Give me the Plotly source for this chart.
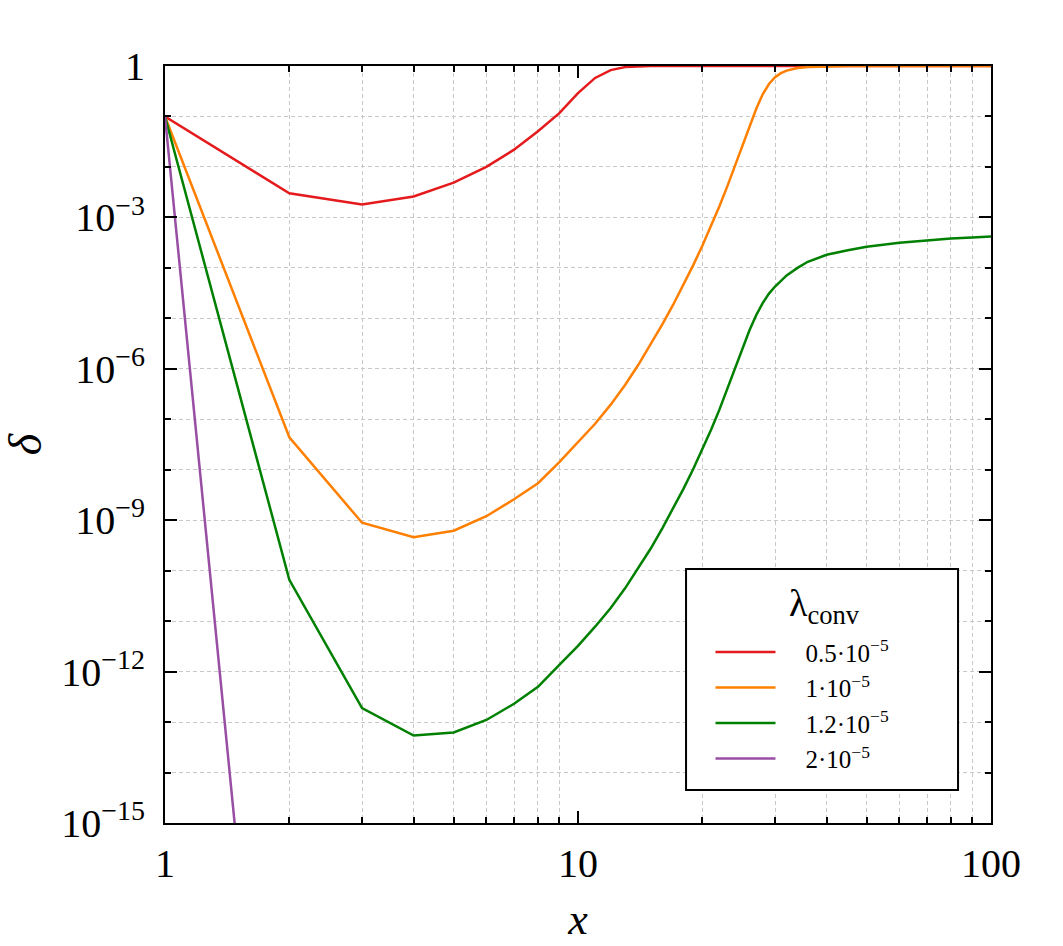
import plotly.graph_objects as go

# ---------------- data ----------------
x_red = [1, 2, 3, 4, 5, 6, 7, 8, 9, 10, 11, 12, 13, 14, 15, 20, 50, 100]
delta_red = [1.0e-1, 3.0e-3, 1.8e-3, 2.6e-3, 4.9e-3, 1.0e-2, 2.2e-2, 5.1e-2,
             1.15e-1, 2.9e-1, 5.8e-1, 8.3e-1, 9.5e-1, 0.99, 1.0, 1.0, 1.0, 1.0]

x_orange = [1, 2, 3, 4, 5, 6, 7, 8, 9, 10, 11, 12, 13, 14, 15, 16, 17, 18, 19,
            20, 21, 22, 23, 24, 25, 26, 27, 28, 29, 30, 31, 32, 33, 34, 36, 40,
            45, 50, 100]
delta_orange = [1.0e-1, 4.4e-8, 8.9e-10, 4.6e-10, 6.2e-10, 1.2e-9, 2.6e-9, 5.4e-9,
                1.4e-8, 3.55e-8, 8.13e-8, 1.95e-7, 4.79e-7, 1.20e-6, 3.02e-6,
                7.59e-6, 1.86e-5, 4.57e-5, 1.12e-4, 2.75e-4, 6.76e-4, 1.66e-3,
                4.17e-3, 1.05e-2, 2.63e-2, 6.31e-2, 1.41e-1, 2.75e-1, 4.4e-1,
                6.0e-1, 7.2e-1, 8.1e-1, 8.7e-1, 9.1e-1, 9.5e-1, 0.984, 0.995,
                1.0, 1.0]

x_green = [1, 2, 3, 4, 5, 6, 7, 8, 9, 10, 11, 12, 13, 14, 15, 16, 17, 18, 19,
           20, 21, 22, 23, 24, 25, 26, 27, 28, 29, 30, 32, 34, 36, 38, 40, 45,
           50, 60, 70, 80, 90, 100]
delta_green = [1.0e-1, 6.6e-11, 1.9e-13, 5.4e-14, 6.2e-14, 1.1e-13, 2.3e-13,
               5.0e-13, 1.35e-12, 3.24e-12, 7.76e-12, 1.82e-11, 4.47e-11,
               1.12e-10, 2.75e-10, 6.92e-10, 1.70e-9, 4.17e-9, 1.02e-8, 2.51e-8,
               6.17e-8, 1.55e-7, 3.98e-7, 1.02e-6, 2.51e-6, 5.75e-6, 1.15e-5,
               2.0e-5, 3.09e-5, 4.27e-5, 7.08e-5, 1.0e-4, 1.32e-4, 1.58e-4,
               1.82e-4, 2.24e-4, 2.63e-4, 3.16e-4, 3.55e-4, 3.80e-4, 3.98e-4,
               4.17e-4]

x_purple = [1, 2]
delta_purple = [1.0e-1, 1.0e-26]

series_names = ["0.5·10<sup>−5</sup>", "1·10<sup>−5</sup>",
                "1.2·10<sup>−5</sup>", "2·10<sup>−5</sup>"]
series_colors = ["#e41a1c", "#ff7f00", "#008000", "#984ea3"]
legend_title = "λ<sub>conv</sub>"

x_major = [1, 10, 100]
x_major_labels = ["1", "10", "100"]
x_minor = [2, 3, 4, 5, 6, 7, 8, 9, 20, 30, 40, 50, 60, 70, 80, 90]

y_major = [1, 1e-3, 1e-6, 1e-9, 1e-12, 1e-15]
y_major_labels = ["1", "10<sup>−3</sup>", "10<sup>−6</sup>", "10<sup>−9</sup>",
                  "10<sup>−12</sup>", "10<sup>−15</sup>"]
y_minor = [1e-1, 1e-2, 1e-4, 1e-5, 1e-7, 1e-8, 1e-10, 1e-11, 1e-13, 1e-14]

# ---------------- figure ----------------
FONT = "Liberation Serif"
fig = go.Figure()
for xs, ys, name, col in zip([x_red, x_orange, x_green, x_purple],
                             [delta_red, delta_orange, delta_green, delta_purple],
                             series_names, series_colors):
    fig.add_trace(go.Scatter(x=xs, y=ys, mode="lines", name="\u2003" + name,
                             line=dict(color=col, width=2.5)))

grid_col = "#c8c8c8"
axis_common = dict(
    type="log", showline=True, linecolor="black", linewidth=2, mirror="ticks",
    ticks="inside", ticklen=12, tickwidth=2, tickcolor="black",
    tickfont=dict(family=FONT, size=40, color="black"), zeroline=False,
    automargin=False,
)

fig.update_xaxes(
    **axis_common, range=[0, 2], tickmode="array", tickvals=x_major,
    ticktext=x_major_labels, showgrid=False, ticklabelstandoff=4,
    minor=dict(tickmode="array", tickvals=x_minor, ticks="inside", ticklen=6,
               tickwidth=1.5, tickcolor="black", showgrid=True,
               gridcolor=grid_col, griddash="4px,3px", gridwidth=1),
    title=dict(text="<i>x</i>", font=dict(family=FONT, size=44, color="black"),
               standoff=18),
)
fig.update_yaxes(
    **axis_common, range=[-15, 0], tickmode="array", tickvals=y_major,
    ticktext=y_major_labels, showgrid=True, gridcolor=grid_col,
    griddash="4px,3px", gridwidth=1, ticklabelstandoff=10,
    minor=dict(tickmode="array", tickvals=y_minor, ticks="inside", ticklen=6,
               tickwidth=1.5, tickcolor="black", showgrid=True,
               gridcolor=grid_col, griddash="4px,3px", gridwidth=1),
    title=dict(text="<i>δ</i>", font=dict(family=FONT, size=46, color="black"),
               standoff=10),
)

# legend frame (paper-anchored rectangle behind the legend) and its heading
fig.add_shape(type="rect", xref="paper", yref="paper",
              x0=0.6308, x1=0.9601, y0=0.0436, y1=0.3355,
              line=dict(color="black", width=2), fillcolor="white", layer="above")
fig.add_annotation(text=legend_title, xref="paper", yref="paper",
                   x=0.799, y=0.287, xanchor="center", yanchor="middle",
                   showarrow=False,
                   font=dict(family=FONT, size=38, color="black"))

fig.update_layout(
    width=1063, height=946,
    margin=dict(l=165, r=72, t=66, b=123, autoexpand=False),
    plot_bgcolor="white", paper_bgcolor="white",
    font=dict(family=FONT, color="black"),
    legend=dict(
        x=0.6604, y=0.256, xanchor="left", yanchor="top",
        bgcolor="rgba(0,0,0,0)", borderwidth=0,
        font=dict(family=FONT, size=25, color="black"),
        itemwidth=60, tracegroupgap=0,
    ),
)

fig.write_html("out.html")
